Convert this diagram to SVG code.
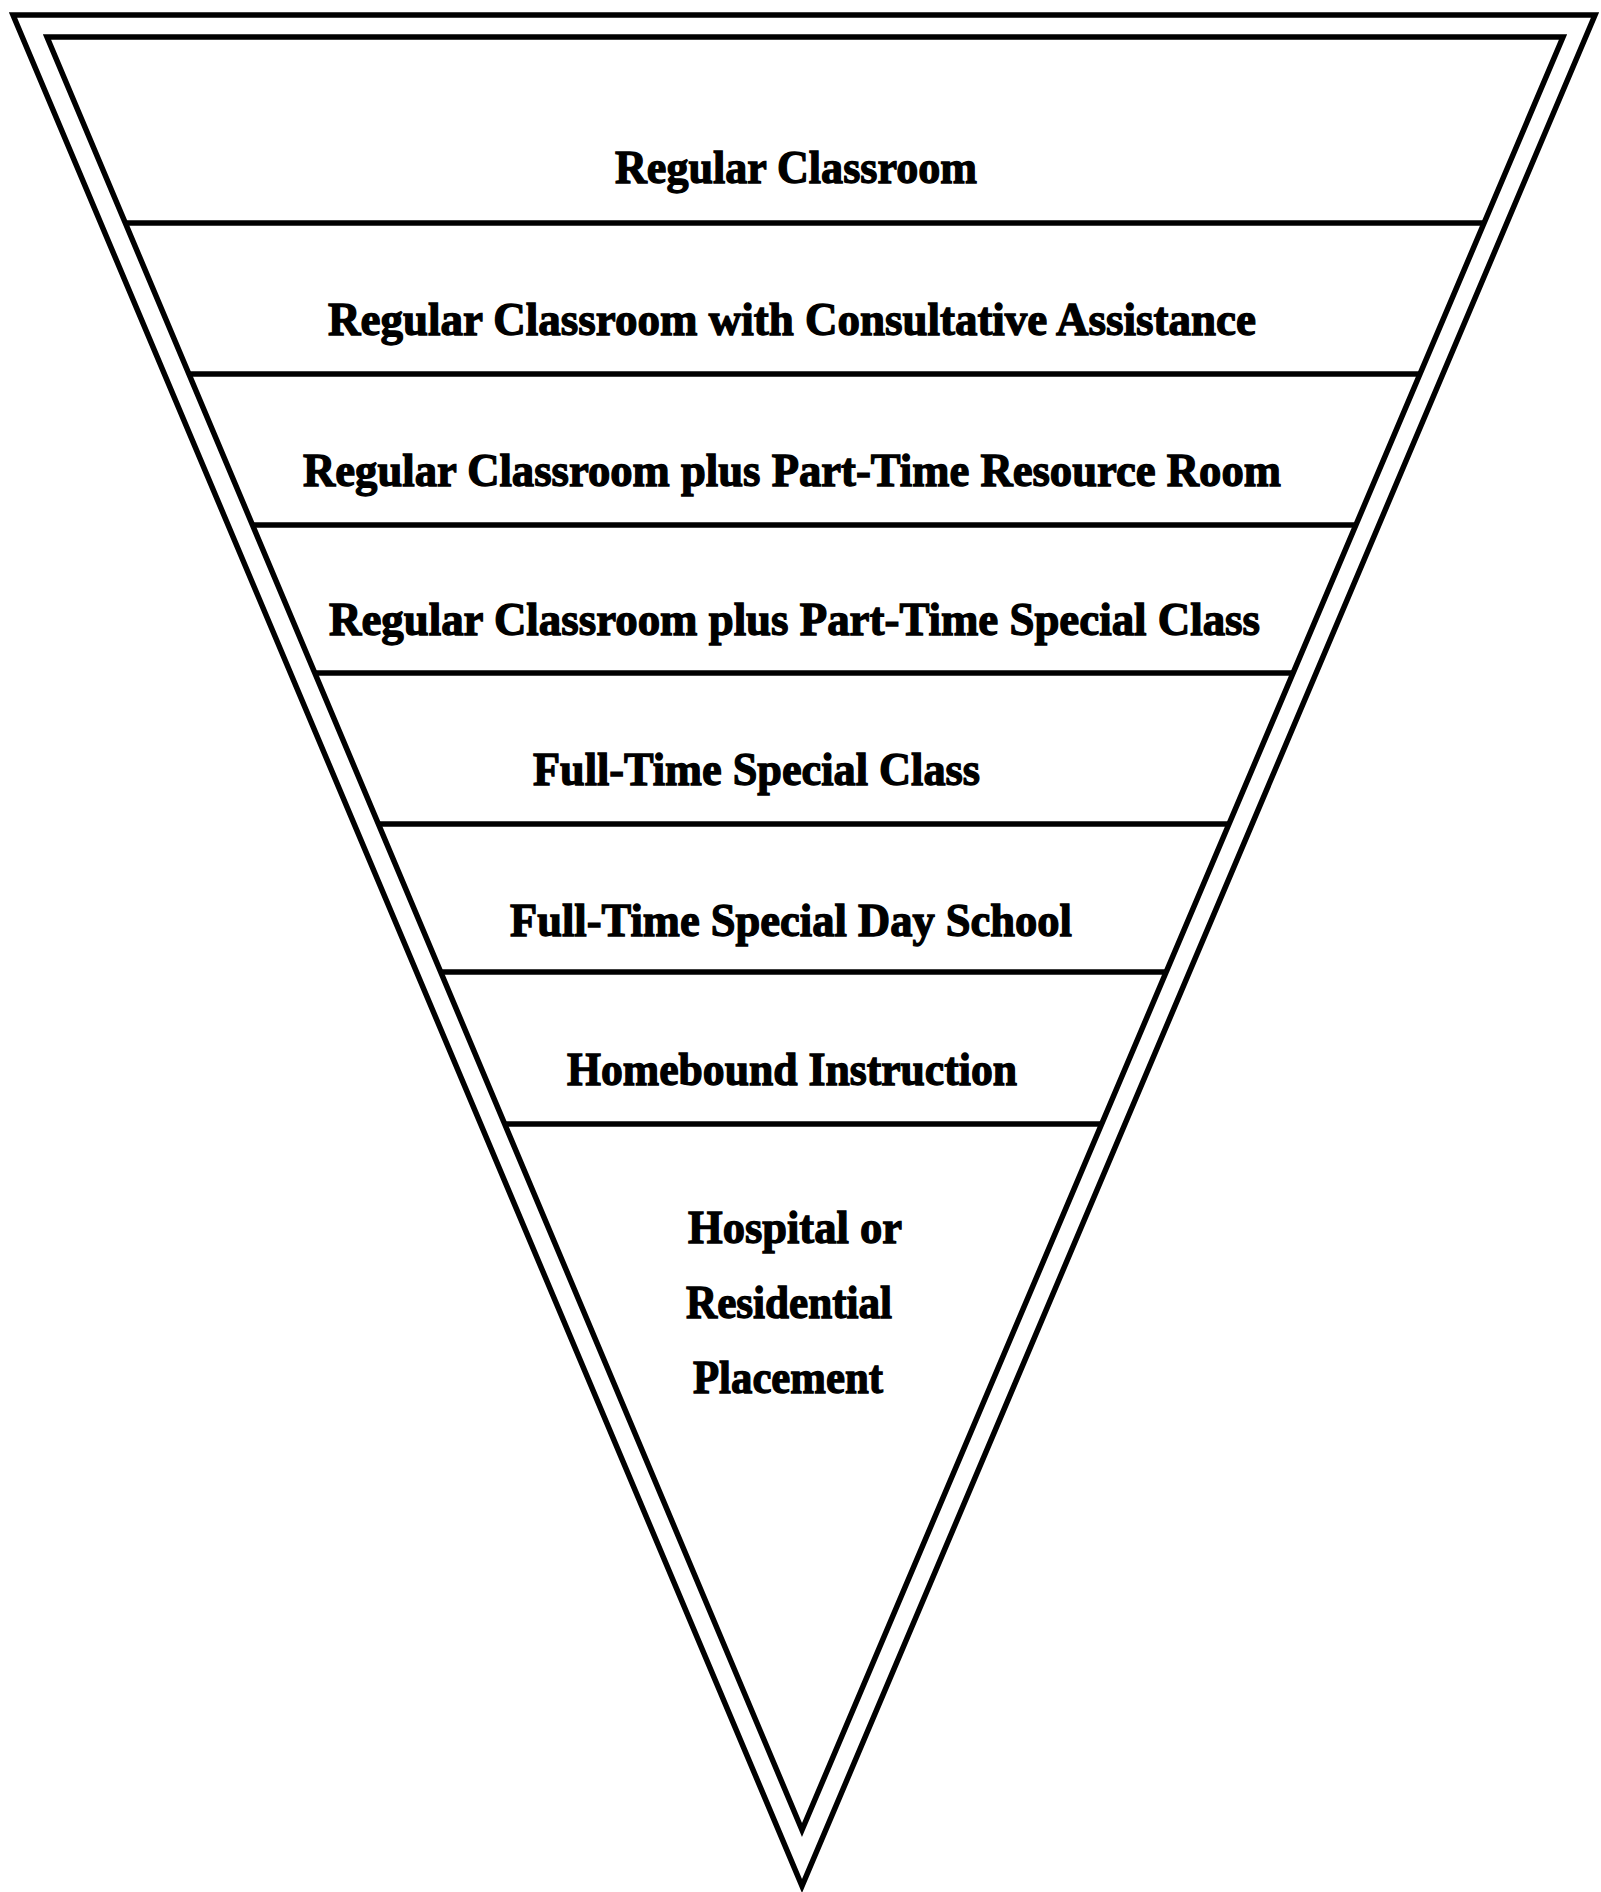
<svg xmlns="http://www.w3.org/2000/svg" width="1601" height="1892" viewBox="0 0 1601 1892">
  <style>
    .edge { fill: none; stroke: #000; stroke-width: 5.5; stroke-linejoin: miter; }
    .sep { stroke: #000; stroke-width: 5.5; }
    .lbl { font-family: "Liberation Serif", "Times New Roman", serif; font-weight: bold; font-size: 46px; fill: #000; stroke: #000; stroke-width: 1.3; }
  </style>
  <rect x="0" y="0" width="1601" height="1892" fill="#fff"/>
  <g id="frame">
    <polygon class="edge" points="13,15 1595,15 802,1886"/>
    <polygon class="edge" points="47,37 1563,37 802,1830"/>
  </g>
  <g id="separators">
    <line class="sep" x1="125" y1="223" x2="1484" y2="223"/>
    <line class="sep" x1="189" y1="374" x2="1420" y2="374"/>
    <line class="sep" x1="252" y1="525" x2="1356" y2="525"/>
    <line class="sep" x1="314" y1="673" x2="1293" y2="673"/>
    <line class="sep" x1="378" y1="824" x2="1229" y2="824"/>
    <line class="sep" x1="440" y1="972" x2="1167" y2="972"/>
    <line class="sep" x1="504" y1="1124" x2="1102" y2="1124"/>
  </g>
  <g id="tier1"><text class="lbl" x="615" y="183" textLength="362" lengthAdjust="spacingAndGlyphs">Regular Classroom</text></g>
  <g id="tier2"><text class="lbl" x="328" y="335" textLength="928" lengthAdjust="spacingAndGlyphs">Regular Classroom with Consultative Assistance</text></g>
  <g id="tier3"><text class="lbl" x="303" y="486" textLength="978" lengthAdjust="spacingAndGlyphs">Regular Classroom plus Part-Time Resource Room</text></g>
  <g id="tier4"><text class="lbl" x="329" y="635" textLength="931" lengthAdjust="spacingAndGlyphs">Regular Classroom plus Part-Time Special Class</text></g>
  <g id="tier5"><text class="lbl" x="533" y="785" textLength="447" lengthAdjust="spacingAndGlyphs">Full-Time Special Class</text></g>
  <g id="tier6"><text class="lbl" x="510" y="936" textLength="562" lengthAdjust="spacingAndGlyphs">Full-Time Special Day School</text></g>
  <g id="tier7"><text class="lbl" x="567" y="1085" textLength="450" lengthAdjust="spacingAndGlyphs">Homebound Instruction</text></g>
  <g id="tier8">
    <text class="lbl" x="688" y="1243" textLength="214" lengthAdjust="spacingAndGlyphs">Hospital or</text>
    <text class="lbl" x="686" y="1318" textLength="206" lengthAdjust="spacingAndGlyphs">Residential</text>
    <text class="lbl" x="693" y="1393" textLength="190" lengthAdjust="spacingAndGlyphs">Placement</text>
  </g>
</svg>
